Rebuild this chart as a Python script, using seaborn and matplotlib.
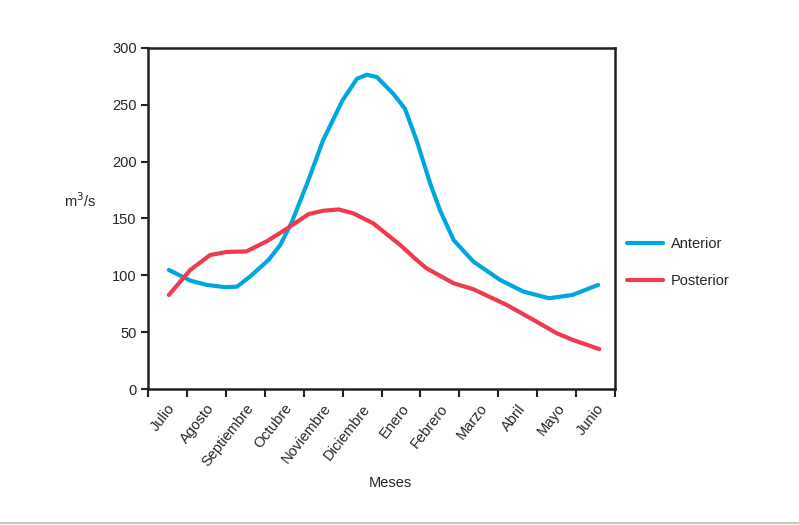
import matplotlib
matplotlib.use("Agg")
import matplotlib.pyplot as plt
from matplotlib.lines import Line2D
import seaborn as sns
import pandas as pd
import numpy as np

meses = ["Julio", "Agosto", "Septiembre", "Octubre", "Noviembre", "Diciembre",
         "Enero", "Febrero", "Marzo", "Abril", "Mayo", "Junio"]

# posiciones (en meses desde el inicio de julio) y caudales
x_anterior = [0.54, 1.09, 1.52, 2.0, 2.29, 2.63, 3.1, 3.4, 3.7, 4.09, 4.5, 5.0, 5.37,
              5.62, 5.88, 6.3, 6.6, 6.9, 7.25, 7.5, 7.85, 8.36, 9.04, 9.64, 10.3,
              10.9, 11.56]
q_anterior = [104.7, 95.3, 91.5, 89.5, 90, 99, 113.5, 126.6, 147, 180.7, 218.7, 253.8,
              272.8, 276.3, 274.3, 259.6, 246.5, 218.7, 180.7, 157.3, 131, 112, 96,
              85.7, 79.8, 82.7, 91.5]

x_posterior = [0.54, 1.09, 1.6, 2.03, 2.53, 3.06, 3.57, 4.13, 4.5, 4.9, 5.28, 5.79,
               6.48, 6.9, 7.16, 7.85, 8.36, 9.21, 9.9, 10.5, 10.9, 11.59]
q_posterior = [82.7, 104.7, 117.8, 120.5, 121, 130, 141, 153.8, 156.7, 157.9, 154.4,
               145.6, 126.6, 113.5, 106, 93, 87.7, 74, 60.8, 49, 43.3, 35.1]

df = pd.concat([
    pd.DataFrame({"mes": x_anterior, "caudal": q_anterior, "serie": "Anterior"}),
    pd.DataFrame({"mes": x_posterior, "caudal": q_posterior, "serie": "Posterior"}),
])

sns.set_style("white")
plt.rcParams["font.family"] = ["Liberation Sans", "DejaVu Sans"]
fs = 10.5

fig = plt.figure(figsize=(7.99, 5.25), dpi=100)
ax = fig.add_axes([0.185, 0.259, 0.585, 0.65])

sns.lineplot(data=df, x="mes", y="caudal", hue="serie", sort=False,
             palette={"Anterior": "#00a6e0", "Posterior": "#ee3b4f"},
             linewidth=3, solid_joinstyle="round", ax=ax)

ax.set_xlim(0, 12)
ax.set_ylim(0, 300)
ax.set_yticks(np.arange(0, 301, 50))
ax.set_xticks(np.arange(0, 13))
ax.set_xticklabels([])
ax.set_xticks(np.arange(12) + 0.5, minor=True)
ax.set_xticklabels(meses, minor=True, rotation=52, ha="right", va="top",
                   rotation_mode="anchor", fontsize=fs)
ax.tick_params(axis="x", which="major", direction="out", length=6, width=1.5,
               color="#231f20", bottom=True)
ax.tick_params(axis="x", which="minor", length=0, pad=9, bottom=True)
ax.tick_params(axis="y", direction="out", length=5, width=1.5, color="#231f20",
               labelsize=fs, left=True, pad=3)

for s in ax.spines.values():
    s.set_color("#231f20")
    s.set_linewidth(1.8)

ax.set_xlabel("")
ax.set_ylabel("")
fig.text(0.1, 0.618, "m$^3$/s", fontsize=fs, ha="center", va="center")
fig.text(0.489, 0.08, "Meses", fontsize=fs, ha="center", va="center")

leg = ax.legend(loc="center left", bbox_to_anchor=(0.997, 0.37), frameon=False,
                fontsize=fs, handlelength=2.5, labelspacing=1.6, handletextpad=0.5)
for h in leg.get_lines():
    h.set_linewidth(3)

# borde gris inferior de la imagen original
fig.add_artist(Line2D([0, 1], [0.004, 0.004], color="#c8c8c8", linewidth=1.5))

fig.savefig("out.png", dpi=100, facecolor="white")
